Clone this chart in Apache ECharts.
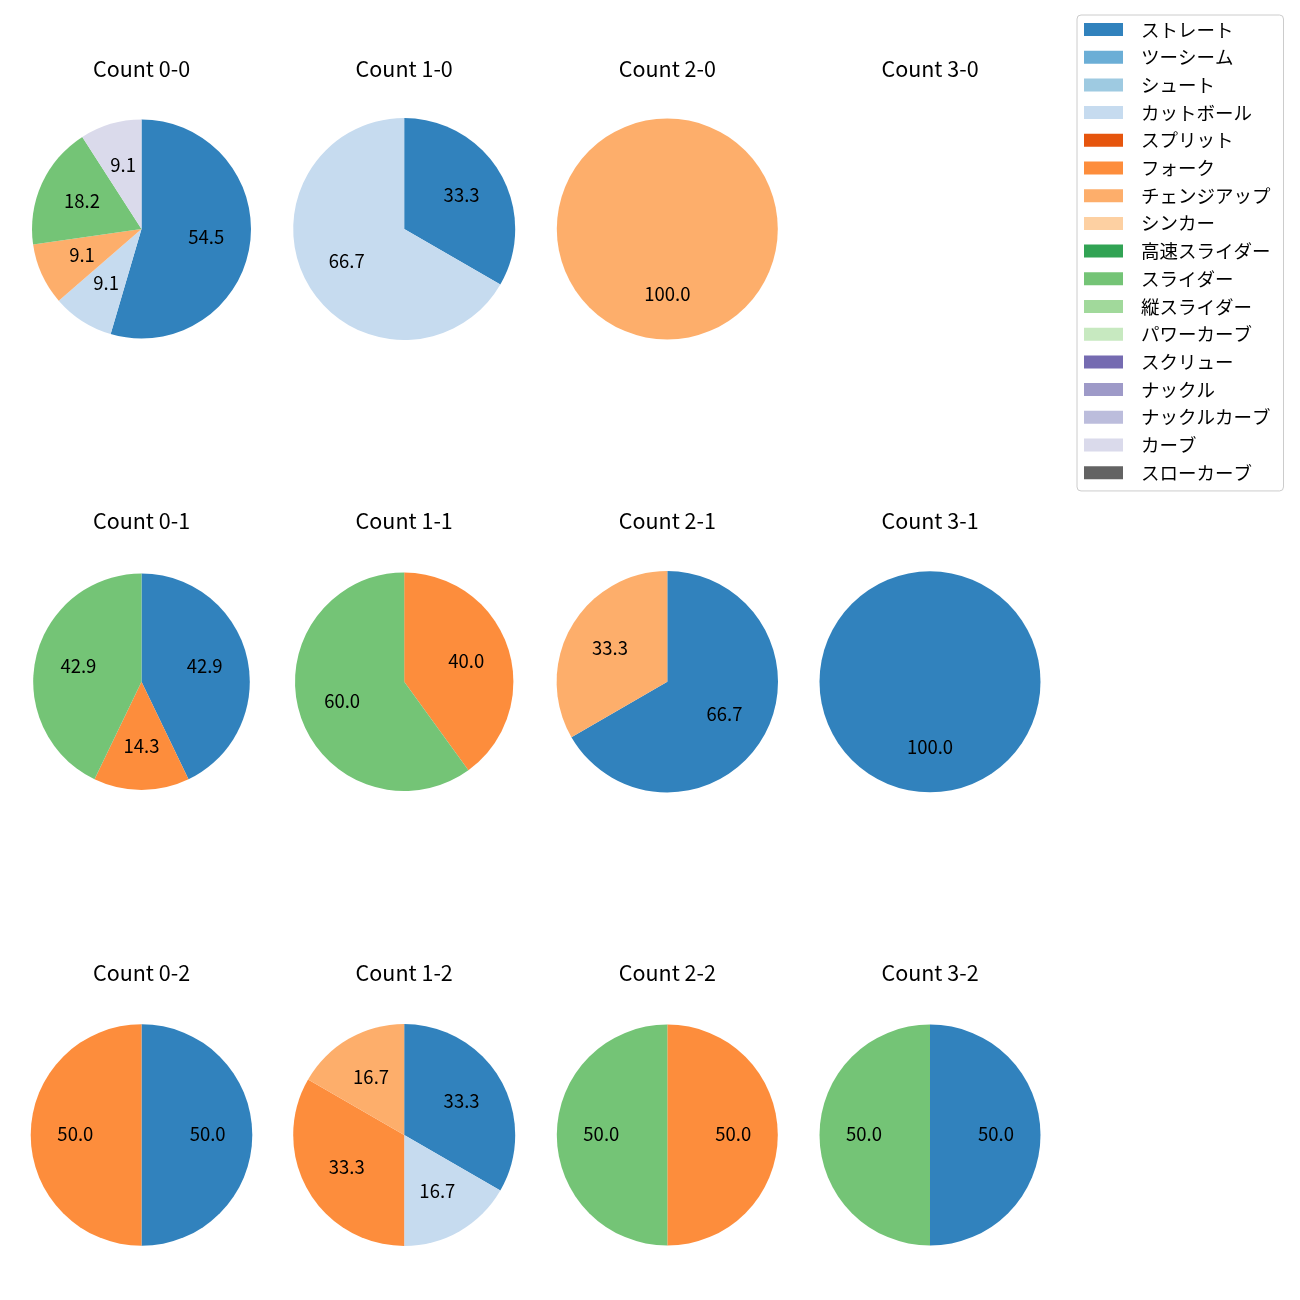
<!DOCTYPE html>
<html>
<head>
<meta charset="utf-8">
<script src="https://cdn.jsdelivr.net/npm/echarts@6/dist/echarts.min.js"></script>
<style>
html,body{margin:0;padding:0;background:#fff;}
#chart{width:1300px;height:1300px;}
</style>
</head>
<body>
<div id="chart"></div>
<script>
// ---- data ----
const pitchTypes = ['ストレート','ツーシーム','シュート','カットボール','スプリット','フォーク','チェンジアップ','シンカー','高速スライダー','スライダー','縦スライダー','パワーカーブ','スクリュー','ナックル','ナックルカーブ','カーブ','スローカーブ'];
const countNames = ['Count 0-0','Count 1-0','Count 2-0','Count 3-0','Count 0-1','Count 1-1','Count 2-1','Count 3-1','Count 0-2','Count 1-2','Count 2-2','Count 3-2'];
// pitch counts, in pitchTypes order
const count00 = [6,0,0,1,0,0,1,0,0,2,0,0,0,0,0,1,0];
const count10 = [1,0,0,2,0,0,0,0,0,0,0,0,0,0,0,0,0];
const count20 = [0,0,0,0,0,0,1,0,0,0,0,0,0,0,0,0,0];
const count30 = [0,0,0,0,0,0,0,0,0,0,0,0,0,0,0,0,0];
const count01 = [3,0,0,0,0,1,0,0,0,3,0,0,0,0,0,0,0];
const count11 = [0,0,0,0,0,2,0,0,0,3,0,0,0,0,0,0,0];
const count21 = [2,0,0,0,0,0,1,0,0,0,0,0,0,0,0,0,0];
const count31 = [1,0,0,0,0,0,0,0,0,0,0,0,0,0,0,0,0];
const count02 = [1,0,0,0,0,1,0,0,0,0,0,0,0,0,0,0,0];
const count12 = [2,0,0,1,0,2,1,0,0,0,0,0,0,0,0,0,0];
const count22 = [0,0,0,0,0,1,0,0,0,1,0,0,0,0,0,0,0];
const count32 = [1,0,0,0,0,0,0,0,0,1,0,0,0,0,0,0,0];
const countData = [count00,count10,count20,count30,count01,count11,count21,count31,count02,count12,count22,count32];

// ---- style ----
const palette = ['#3182bd','#6baed6','#9ecae1','#c6dbef','#e6550d','#fd8d3c','#fdae6b','#fdd0a2','#31a354','#74c476','#a1d99b','#c7e9c0','#756bb1','#9e9ac8','#bcbddc','#dadaeb','#636363'];
const FONT = '"Noto Sans CJK JP", "Noto Sans", sans-serif';
const colX = [141.5, 404.2, 667.3, 930];
const rowY = [229, 681.8, 1135];
const titleY = [69, 521, 973];
const radii = [109.5, 111, 110.5, 110.5, 108.3, 109.2, 110.7, 110.5, 110.8, 111, 110.5, 110.5];

const chart = echarts.init(document.getElementById('chart'), null, {renderer: 'canvas'});

const series = [];
const titles = [];
// hidden series providing all legend entries
series.push({
  type: 'pie', name: 'legend-src', silent: true, center: [-500, -500], radius: [0, 1],
  label: {show: false}, labelLine: {show: false}, animation: false,
  data: pitchTypes.map((p, i) => ({name: p, value: 1, itemStyle: {color: palette[i]}}))
});

countData.forEach((arr, k) => {
  const col = k % 4, row = Math.floor(k / 4);
  const cx = colX[col], cy = rowY[row], R = radii[k];
  titles.push({
    text: countNames[k], left: cx, top: titleY[row] - 11, textAlign: 'center', padding: 0,
    textStyle: {fontFamily: FONT, fontSize: 21.5, fontWeight: 'normal', color: '#000', lineHeight: 22}
  });
  const total = arr.reduce((a, b) => a + b, 0);
  if (total === 0) return;
  const items = [];
  arr.forEach((v, i) => { if (v > 0) items.push({name: pitchTypes[i], value: v, idx: i}); });
  series.push({
    type: 'pie', center: [cx, cy], radius: [0, R], startAngle: 90, clockwise: true,
    animation: false, silent: true, avoidLabelOverlap: false,
    itemStyle: {borderWidth: 0},
    label: {show: false}, labelLine: {show: false},
    data: items.map(d => ({name: d.name, value: d.value, itemStyle: {color: palette[d.idx]}}))
  });
  // label carrier: labels placed ~0.6R from centre like matplotlib pctdistance
  series.push({
    type: 'pie', center: [cx, cy], radius: [0.14 * R, R], startAngle: 90, clockwise: true,
    animation: false, silent: true, avoidLabelOverlap: false,
    itemStyle: {color: 'rgba(0,0,0,0)', borderWidth: 0},
    label: {show: true, position: 'inside', color: '#000', fontFamily: FONT, fontSize: 18.5,
      offset: [0, -1],
      formatter: p => (p.value / total * 100).toFixed(1)},
    labelLine: {show: false},
    data: items.map(d => ({name: d.name, value: d.value}))
  });
});

chart.setOption({
  backgroundColor: '#fff',
  animation: false,
  title: titles,
  legend: {
    data: pitchTypes, orient: 'vertical', left: 1077, top: 15,
    padding: [5.25, 13, 9, 7], itemGap: 9.2, itemWidth: 39, itemHeight: 13,
    icon: 'rect', selectedMode: false,
    borderColor: '#cccccc', borderWidth: 1, borderRadius: 4, backgroundColor: '#fff',
    textStyle: {fontFamily: FONT, fontSize: 18.5, color: '#000', padding: [0, 0, 0, 13]}
  },
  series: series
});
</script>
</body>
</html>
